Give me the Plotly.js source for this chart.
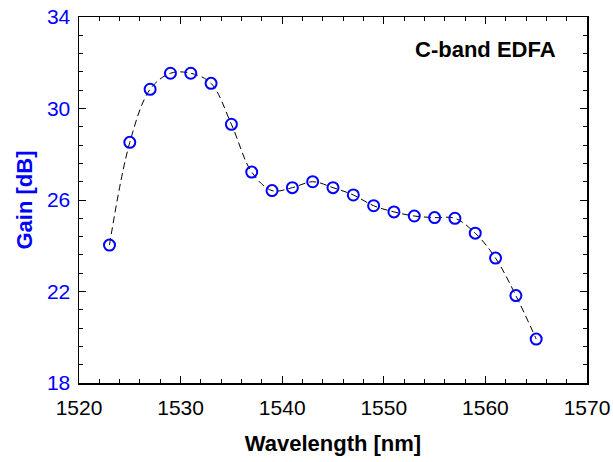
<!DOCTYPE html>
<html>
<head>
<meta charset="utf-8">
<script src="https://cdn.plot.ly/plotly-3.0.1.min.js"></script>
<style>html,body{margin:0;padding:0;background:#fff;}</style>
</head>
<body>
<div id="chart" style="width:613px;height:462px;"></div>
<script>
const wavelength = [1523,1525,1527,1529,1531,1533,1535,1537,1539,1541,1543,1545,1547,1549,1551,1553,1555,1557,1559,1561,1563,1565];
const gain = [24.03,28.52,30.84,31.54,31.54,31.10,29.31,27.22,26.41,26.54,26.80,26.54,26.22,25.75,25.48,25.30,25.23,25.20,24.55,23.46,21.82,19.92];
const xTicks = [1520,1530,1540,1550,1560,1570];
const yTicks = [18,22,26,30,34];
const labelText = "C-band EDFA";

const font = "Liberation Sans, Arial, sans-serif";
const trace = {
  x: wavelength, y: gain, type: 'scatter', mode: 'lines+markers',
  line: {color: 'black', width: 1, dash: '7px,4px', shape: 'spline', smoothing: 1},
  marker: {symbol: 'circle-open', size: 11, color: '#0000ff', line: {color: '#0000ff', width: 2}},
  hoverinfo: 'skip', showlegend: false
};
const layout = {
  width: 613, height: 462,
  margin: {l: 79, r: 26, t: 17, b: 79},
  paper_bgcolor: 'white', plot_bgcolor: 'white',
  font: {family: font, color: 'black'},
  xaxis: {
    range: [1520, 1570], tickvals: xTicks, ticktext: xTicks.map(String),
    ticks: 'inside', ticklen: 7, tickwidth: 1, tickcolor: 'black',
    ticklabelstandoff: 5,
    showline: true, linecolor: 'black', linewidth: 1.5, mirror: 'allticks',
    showgrid: false, zeroline: false,
    tickfont: {size: 21, color: 'black', family: font},
    minor: {dtick: 2, tick0: 1520, ticks: 'inside', ticklen: 4, tickcolor: 'black', tickwidth: 1, showgrid: false},
    title: {text: '<b>Wavelength [nm]</b>', font: {size: 22, color: 'black', family: font}, standoff: 18}
  },
  yaxis: {
    range: [18, 34], tickvals: yTicks, ticktext: yTicks.map(String),
    ticks: 'inside', ticklen: 7, tickwidth: 1, tickcolor: 'black',
    ticklabelstandoff: 3,
    showline: true, linecolor: 'black', linewidth: 1.5, mirror: 'allticks',
    showgrid: false, zeroline: false,
    tickfont: {size: 21, color: '#0000ff', family: font},
    minor: {dtick: 0.8, tick0: 18, ticks: 'inside', ticklen: 4, tickcolor: 'black', tickwidth: 1, showgrid: false},
    title: {text: '<b>Gain [dB]</b>', font: {size: 22, color: '#0000ff', family: font}, standoff: 8}
  },
  annotations: [{
    x: 1560, y: 32.58, xref: 'x', yref: 'y', text: '<b>' + labelText + '</b>',
    showarrow: false, xanchor: 'center', yanchor: 'middle',
    font: {size: 22, color: 'black', family: font}
  }]
};
Plotly.newPlot('chart', [trace], layout, {displayModeBar: false, staticPlot: true});
</script>
</body>
</html>
